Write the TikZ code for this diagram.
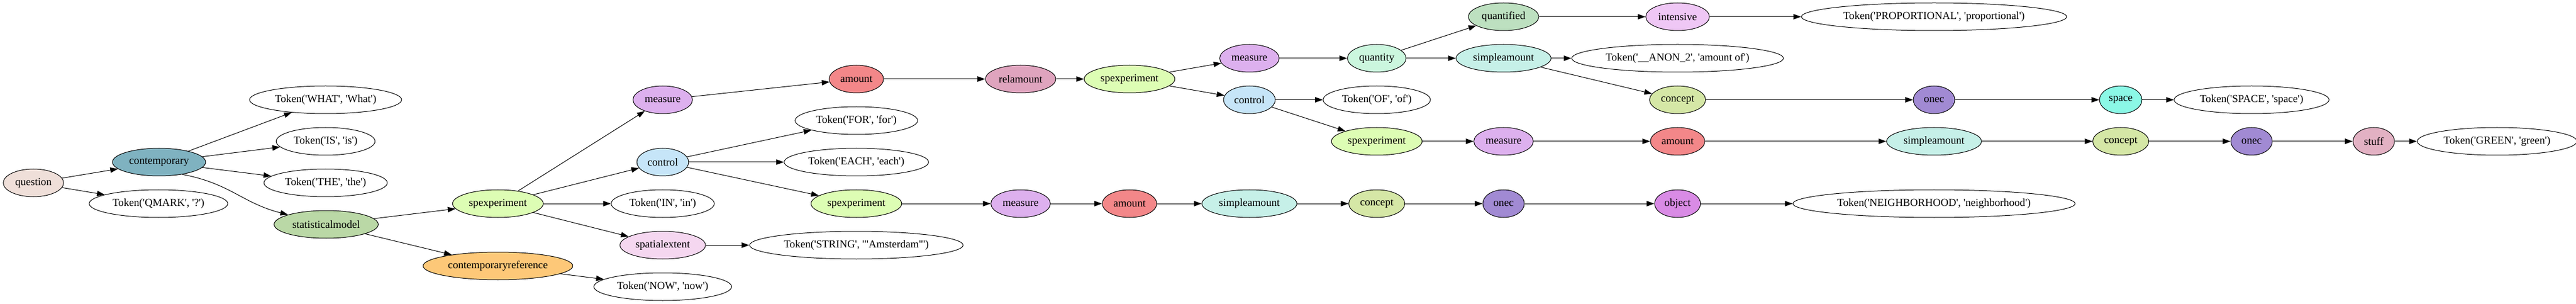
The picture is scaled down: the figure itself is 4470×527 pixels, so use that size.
\documentclass[tikz,border=0pt]{standalone}
\usepackage{fontspec}
\setmainfont{Liberation Serif}[Ligatures=TeXOff]
\usetikzlibrary{arrows.meta,shapes.geometric}

\definecolor{cQuestion}{HTML}{EFDFD9}
\definecolor{cContemp}{HTML}{7FB2C0}
\definecolor{cStatModel}{HTML}{BAD8A6}
\definecolor{cSpexp}{HTML}{DDFDB4}
\definecolor{cContRef}{HTML}{FDC878}
\definecolor{cMeasure}{HTML}{DDB0EE}
\definecolor{cControl}{HTML}{C6E5F8}
\definecolor{cSpatial}{HTML}{F5D7F0}
\definecolor{cAmount}{HTML}{F38789}
\definecolor{cRelAmount}{HTML}{DFA4BE}
\definecolor{cQuantity}{HTML}{CBF6DE}
\definecolor{cSimpleAmount}{HTML}{C6F0E8}
\definecolor{cQuantified}{HTML}{BDE0C0}
\definecolor{cIntensive}{HTML}{EFC7F5}
\definecolor{cConcept}{HTML}{D5E7A6}
\definecolor{cOnec}{HTML}{A18AD3}
\definecolor{cSpace}{HTML}{8BF8E6}
\definecolor{cObject}{HTML}{D98BE5}
\definecolor{cStuff}{HTML}{E2B1C3}

\tikzset{
  rule/.style={draw, ellipse, line width=0.75pt, inner xsep=4pt, inner ysep=2pt,
    minimum width=54pt, minimum height=36pt, font=\fontsize{14}{16}\selectfont},
  tok/.style={rule, fill=white},
  edge/.style={draw, line width=0.75pt, -{Triangle[length=10pt,width=7pt]}},
}

\begin{document}
\begin{tikzpicture}[x=0.75pt, y=-0.75pt]
		%%%%% START %%%%%
		
		\fill[white] (0,0) rectangle (4470,527);
		\useasboundingbox (0,0) rectangle (4470,527);
		
		\node[rule, fill=cQuestion] (question) at (58,317) {question};
		
		\node[rule, fill=cContemp] (contemporary) at (276,281) {contemporary};
		\node[tok] (tQmark) at (275,353) {Token('QMARK', '?')};
		
		\node[tok] (tWhat) at (565,173) {Token('WHAT', 'What')};
		\node[tok] (tIs) at (565,245) {Token('IS', 'is')};
		\node[tok] (tThe) at (565,317) {Token('THE', 'the')};
		\node[rule, fill=cStatModel] (statmodel) at (566,389) {statisticalmodel};
		
		\node[rule, fill=cSpexp] (spexpA) at (864,353) {spexperiment};
		\node[rule, fill=cContRef] (contref) at (864,461) {contemporaryreference};
		
		\node[rule, fill=cMeasure] (measureA) at (1150,173) {measure};
		\node[rule, fill=cControl] (controlA) at (1150,281) {control};
		\node[tok] (tIn) at (1150,353) {Token('IN', 'in')};
		\node[rule, fill=cSpatial] (spatial) at (1150,425) {spatialextent};
		\node[tok] (tNow) at (1150,497) {Token('NOW', 'now')};
		
		\node[rule, fill=cAmount] (amountA) at (1486,137) {amount};
		\node[tok] (tFor) at (1486,209) {Token('FOR', 'for')};
		\node[tok] (tEach) at (1486,281) {Token('EACH', 'each')};
		\node[rule, fill=cSpexp] (spexpB) at (1486,353) {spexperiment};
		\node[tok] (tString) at (1486,425) {Token('STRING', '"Amsterdam"')};
		
		\node[rule, fill=cRelAmount] (relamount) at (1771,137) {relamount};
		\node[rule, fill=cMeasure] (measureB) at (1771,353) {measure};
		
		\node[rule, fill=cSpexp] (spexpC) at (1960,137) {spexperiment};
		\node[rule, fill=cAmount] (amountB) at (1960,353) {amount};
		
		\node[rule, fill=cMeasure] (measureC) at (2168,101) {measure};
		\node[rule, fill=cControl] (controlB) at (2168,173) {control};
		\node[rule, fill=cSimpleAmount] (simpleA) at (2168,353) {simpleamount};
		
		\node[rule, fill=cQuantity] (quantity) at (2389,101) {quantity};
		\node[tok] (tOf) at (2389,173) {Token('OF', 'of')};
		\node[rule, fill=cSpexp] (spexpD) at (2389,245) {spexperiment};
		\node[rule, fill=cConcept] (conceptA) at (2389,353) {concept};
		
		\node[rule, fill=cQuantified] (quantified) at (2609,29) {quantified};
		\node[rule, fill=cSimpleAmount] (simpleB) at (2609,101) {simpleamount};
		\node[rule, fill=cMeasure] (measureD) at (2609,245) {measure};
		\node[rule, fill=cOnec] (onecA) at (2609,353) {onec};
		
		\node[rule, fill=cIntensive] (intensive) at (2911,29) {intensive};
		\node[tok] (tAnon) at (2911,101) {Token('\_\_ANON\_2', 'amount of')};
		\node[rule, fill=cConcept] (conceptB) at (2911,173) {concept};
		\node[rule, fill=cAmount] (amountC) at (2911,245) {amount};
		\node[rule, fill=cObject] (object) at (2911,353) {object};
		
		\node[tok] (tProp) at (3356,29) {Token('PROPORTIONAL', 'proportional')};
		\node[rule, fill=cOnec] (onecB) at (3356,173) {onec};
		\node[rule, fill=cSimpleAmount] (simpleC) at (3356,245) {simpleamount};
		\node[tok] (tNeigh) at (3356,353) {Token('NEIGHBORHOOD', 'neighborhood')};
		
		\node[rule, fill=cSpace] (space) at (3680,173) {space};
		\node[rule, fill=cConcept] (conceptC) at (3680,245) {concept};
		
		\node[tok] (tSpace) at (3907,173) {Token('SPACE', 'space')};
		\node[rule, fill=cOnec] (onecC) at (3907,245) {onec};
		
		\node[rule, fill=cStuff] (stuff) at (4119,245) {stuff};
		\node[tok] (tGreen) at (4333,245) {Token('GREEN', 'green')};
		
		%%%%% EDGES %%%%%
		
		\draw[edge] (question) -- (contemporary);
		\draw[edge] (question) -- (tQmark);
		
		\draw[edge] (contemporary) -- (tWhat);
		\draw[edge] (contemporary) -- (tIs);
		\draw[edge] (contemporary) -- (tThe);
		\draw[edge] (contemporary.-28) .. controls (400,318) and (420,352) .. (statmodel);
		
		\draw[edge] (statmodel) -- (spexpA);
		\draw[edge] (statmodel) -- (contref);
		
		\draw[edge] (spexpA) -- (measureA);
		\draw[edge] (spexpA) -- (controlA);
		\draw[edge] (spexpA) -- (tIn);
		\draw[edge] (spexpA) -- (spatial);
		\draw[edge] (contref) -- (tNow);
		
		\draw[edge] (measureA) -- (amountA);
		\draw[edge] (controlA) -- (tFor);
		\draw[edge] (controlA) -- (tEach);
		\draw[edge] (controlA) -- (spexpB);
		\draw[edge] (spatial) -- (tString);
		
		\draw[edge] (amountA) -- (relamount);
		\draw[edge] (spexpB) -- (measureB);
		\draw[edge] (relamount) -- (spexpC);
		\draw[edge] (measureB) -- (amountB);
		
		\draw[edge] (spexpC) -- (measureC);
		\draw[edge] (spexpC) -- (controlB);
		\draw[edge] (amountB) -- (simpleA);
		
		\draw[edge] (measureC) -- (quantity);
		\draw[edge] (controlB) -- (tOf);
		\draw[edge] (controlB) -- (spexpD);
		\draw[edge] (simpleA) -- (conceptA);
		
		\draw[edge] (quantity) -- (quantified);
		\draw[edge] (quantity) -- (simpleB);
		\draw[edge] (spexpD) -- (measureD);
		\draw[edge] (conceptA) -- (onecA);
		
		\draw[edge] (quantified) -- (intensive);
		\draw[edge] (simpleB) -- (tAnon);
		\draw[edge] (simpleB) -- (conceptB);
		\draw[edge] (measureD) -- (amountC);
		\draw[edge] (onecA) -- (object);
		
		\draw[edge] (intensive) -- (tProp);
		\draw[edge] (conceptB) -- (onecB);
		\draw[edge] (amountC) -- (simpleC);
		\draw[edge] (object) -- (tNeigh);
		
		\draw[edge] (onecB) -- (space);
		\draw[edge] (simpleC) -- (conceptC);
		\draw[edge] (space) -- (tSpace);
		\draw[edge] (conceptC) -- (onecC);
		\draw[edge] (onecC) -- (stuff);
		\draw[edge] (stuff) -- (tGreen);
		
		%%%%% END %%%%%
	\end{tikzpicture}
\end{document}
